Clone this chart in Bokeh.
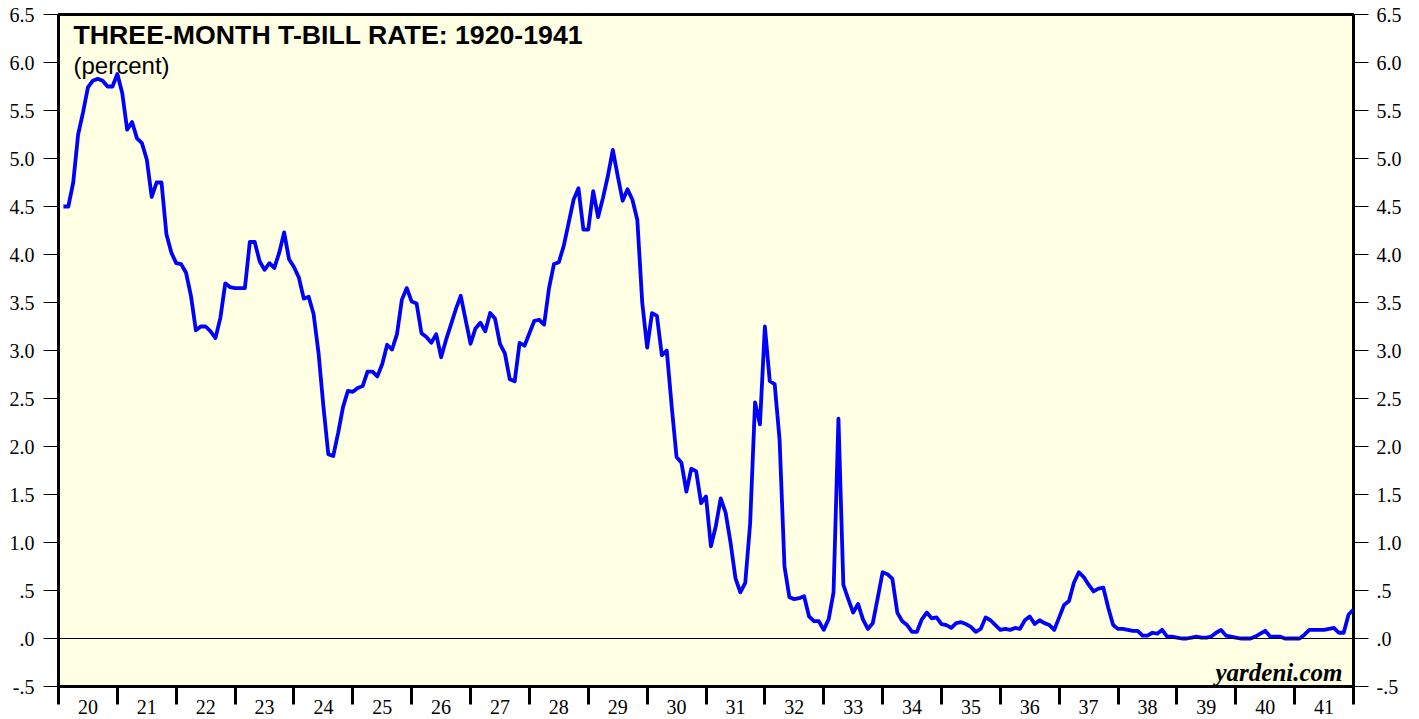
from bokeh.plotting import figure
from bokeh.models import Range1d, LinearAxis, FixedTicker, Span, Label, ColumnDataSource
from bokeh.embed import file_html
from bokeh.resources import INLINE

# ---- data: monthly three-month T-bill rate (percent), Jan 1920 .. Dec 1941 ----
start_year = 20  # 1920, axis uses two-digit years
rates_1920_1924 = [
    4.50, 4.50, 4.75, 5.25, 5.48, 5.74, 5.81, 5.83, 5.81, 5.75, 5.75, 5.88,
    5.68, 5.30, 5.38, 5.21, 5.16, 4.99, 4.60, 4.75, 4.75, 4.21, 4.02, 3.91,
    3.90, 3.81, 3.57, 3.21, 3.25, 3.25, 3.20, 3.13, 3.34, 3.70, 3.66, 3.65,
    3.65, 3.65, 4.13, 4.13, 3.93, 3.84, 3.91, 3.86, 4.02, 4.23, 3.95, 3.87,
    3.76, 3.54, 3.56, 3.38, 2.98, 2.42, 1.92, 1.90, 2.14, 2.41, 2.58, 2.57,
]
rates_1925_1929 = [
    2.61, 2.63, 2.78, 2.78, 2.73, 2.86, 3.06, 3.01, 3.17, 3.53, 3.65, 3.51,
    3.49, 3.18, 3.14, 3.08, 3.17, 2.93, 3.11, 3.27, 3.43, 3.57, 3.32, 3.07,
    3.23, 3.29, 3.20, 3.39, 3.33, 3.07, 2.97, 2.70, 2.68, 3.08, 3.05, 3.18,
    3.31, 3.32, 3.27, 3.65, 3.90, 3.92, 4.09, 4.33, 4.57, 4.69, 4.26, 4.26,
    4.66, 4.39, 4.59, 4.82, 5.09, 4.82, 4.56, 4.68, 4.57, 4.36, 3.50, 3.03,
]
rates_1930_1934 = [
    3.39, 3.36, 2.95, 3.00, 2.42, 1.89, 1.83, 1.53, 1.77, 1.74, 1.41, 1.48,
    0.96, 1.17, 1.46, 1.31, 1.00, 0.63, 0.48, 0.58, 1.20, 2.46, 2.23, 3.25,
    2.68, 2.65, 2.07, 0.75, 0.43, 0.41, 0.42, 0.44, 0.23, 0.18, 0.18, 0.09,
    0.20, 0.48, 2.29, 0.56, 0.41, 0.27, 0.36, 0.20, 0.10, 0.16, 0.42, 0.69,
    0.67, 0.62, 0.27, 0.18, 0.14, 0.07, 0.07, 0.20, 0.27, 0.21, 0.22, 0.15,
]
rates_1935_1941 = [
    0.14, 0.11, 0.16, 0.17, 0.15, 0.12, 0.07, 0.10, 0.22, 0.19, 0.14, 0.09,
    0.10, 0.09, 0.11, 0.10, 0.19, 0.23, 0.15, 0.19, 0.16, 0.14, 0.09, 0.22,
    0.35, 0.39, 0.58, 0.69, 0.64, 0.56, 0.49, 0.52, 0.53, 0.32, 0.14, 0.10,
    0.10, 0.09, 0.08, 0.08, 0.03, 0.03, 0.06, 0.05, 0.09, 0.02, 0.02, 0.01,
    0.00, 0.00, 0.01, 0.02, 0.01, 0.01, 0.02, 0.06, 0.09, 0.03, 0.02, 0.01,
    0.00, 0.00, 0.00, 0.02, 0.05, 0.08, 0.02, 0.02, 0.02, 0.00, 0.00, 0.00,
    0.00, 0.04, 0.09, 0.09, 0.09, 0.09, 0.10, 0.11, 0.06, 0.06, 0.25, 0.30,
]
rates = rates_1920_1924 + rates_1925_1929 + rates_1930_1934 + rates_1935_1941
year_labels = [str(y) for y in range(20, 42)]
y_ticks = [-0.5, 0.0, 0.5, 1.0, 1.5, 2.0, 2.5, 3.0, 3.5, 4.0, 4.5, 5.0, 5.5, 6.0, 6.5]
y_tick_labels = ["-.5", ".0", ".5", "1.0", "1.5", "2.0", "2.5", "3.0", "3.5",
                 "4.0", "4.5", "5.0", "5.5", "6.0", "6.5"]
title_text = "THREE-MONTH T-BILL RATE: 1920-1941"
subtitle_text = "(percent)"
source_text = "yardeni.com"

# month-end positions in fractional two-digit years
xs = [start_year + (k + 1) / 12.0 for k in range(len(rates))]
src = ColumnDataSource(dict(x=xs, y=rates))

SERIF = "Liberation Serif"
SANS = "Liberation Sans"

p = figure(frame_width=1295, frame_height=672,
           x_range=Range1d(20, 42), y_range=Range1d(-0.5, 6.5),
           output_backend="svg", toolbar_location=None,
           min_border_left=58, min_border_top=14, min_border_right=52, min_border_bottom=10,
           x_axis_location=None, y_axis_location=None)
p.background_fill_color = "#FFFFE4"
p.border_fill_color = "white"
p.outline_line_color = "black"
p.outline_line_width = 3
p.xgrid.visible = False
p.ygrid.visible = False

# y axes (left & right)
def make_y_axis(standoff):
    ax = LinearAxis(ticker=FixedTicker(ticks=y_ticks, minor_ticks=[]))
    ax.major_label_overrides = {t: l for t, l in zip(y_ticks, y_tick_labels)}
    ax.axis_line_color = None
    ax.major_tick_out = 15
    ax.major_tick_in = 0
    ax.major_tick_line_width = 1.2
    ax.minor_tick_out = 0
    ax.minor_tick_in = 0
    ax.major_label_standoff = standoff
    ax.major_label_text_font = SERIF
    ax.major_label_text_font_size = "20px"
    ax.major_label_text_color = "black"
    return ax

p.add_layout(make_y_axis(9), "left")
p.add_layout(make_y_axis(8), "right")

# x axis: labels mid-year, ticks at year boundaries
mids = [start_year + i + 0.5 for i in range(len(year_labels))]
bounds = [start_year + i for i in range(len(year_labels) + 1)]
xax = LinearAxis(ticker=FixedTicker(ticks=mids, minor_ticks=bounds))
xax.major_label_overrides = {m: l for m, l in zip(mids, year_labels)}
xax.axis_line_color = None
xax.major_tick_out = 0
xax.major_tick_in = 0
xax.minor_tick_out = 18
xax.minor_tick_in = 0
xax.minor_tick_line_width = 3
xax.minor_tick_line_color = "black"
xax.major_label_standoff = -5
xax.major_label_text_font = SERIF
xax.major_label_text_font_size = "20px"
xax.major_label_text_color = "black"
p.add_layout(xax, "below")

p.add_layout(Span(location=0, dimension="width", line_color="black", line_width=1))

p.line("x", "y", source=src, line_color="#0000FF", line_width=3.8, line_join="round")

p.add_layout(Label(x=20.255, y=6.285, text=title_text, text_font=SANS,
                   text_font_style="bold", text_font_size="26.7px", text_color="black",
                   text_baseline="alphabetic", text_align="left"))
p.add_layout(Label(x=20.255, y=5.97, text=subtitle_text, text_font=SANS,
                   text_font_size="24px", text_color="black",
                   text_baseline="alphabetic", text_align="left"))
p.add_layout(Label(x=41.814, y=-0.35, text=source_text, text_font=SERIF,
                   text_font_style="bold italic", text_font_size="25px", text_color="black",
                   text_baseline="alphabetic", text_align="right"))

html = file_html(p, INLINE)
html = html.replace("<head>", "<head><style>html,body{overflow:hidden;}</style>", 1)
open("out.html", "w").write(html)
